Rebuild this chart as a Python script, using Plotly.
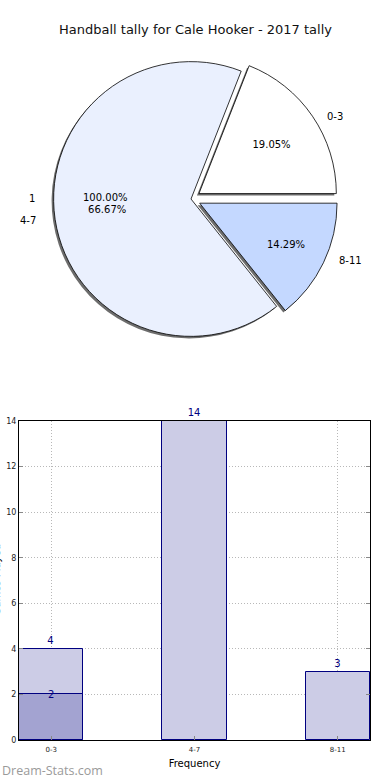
import plotly.graph_objects as go

# ---- data ----
categories = ["0-3", "4-7", "8-11"]
tally = [4, 14, 3]
sub_tally = [2, 0, 0]
pie_colors = ["#ffffff", "#eaf0fe", "#c4d8ff"]
pie_pull = [0.07, 0.0, 0.07]
overlay_labels = ["1"]
overlay_values = [1]
title = "Handball tally for Cale Hooker - 2017 tally"
y_title = "Games Played"

W, H = 390, 780

def px(x):
    return x / W

def py(y):
    return 1 - y / H

# first slice starts at 3 o'clock and runs counter-clockwise
rot = 90 - 360 * tally[0] / sum(tally)

cx, cy, half = 191, 199, 147
dom_x = [px(cx - half), px(cx + half)]
dom_y = [py(cy + half), py(cy - half)]
sh_dx, sh_dy = -2, 2

fig = go.Figure()

fig.add_trace(go.Pie(
    labels=categories, values=tally, sort=False, direction="counterclockwise",
    rotation=rot, pull=pie_pull,
    marker=dict(colors=["rgba(60,60,60,0.75)"] * 3, line=dict(width=0)),
    textinfo="none", hoverinfo="skip", showlegend=False,
    domain=dict(x=[dom_x[0] + px(sh_dx), dom_x[1] + px(sh_dx)],
                y=[dom_y[0] - sh_dy / H, dom_y[1] - sh_dy / H]),
))

pad = "\u00a0" * 10
fig.add_trace(go.Pie(
    labels=categories, values=tally, sort=False, direction="counterclockwise",
    rotation=rot, pull=pie_pull,
    marker=dict(colors=pie_colors, line=dict(color="black", width=0.8)),
    texttemplate=["%{percent:.2%}", "%{percent:.2%}" + pad, "%{percent:.2%}"],
    textposition="inside", insidetextorientation="horizontal",
    textfont=dict(family="DejaVu Sans", size=10, color="black"),
    showlegend=False, domain=dict(x=dom_x, y=dom_y),
))

fig.add_trace(go.Bar(
    x=list(range(len(categories))), y=tally, width=0.45,
    marker=dict(color="#cccce6", line=dict(color="#000080", width=1)),
    text=[str(v) for v in tally], textposition="outside",
    textfont=dict(family="DejaVu Sans", size=10, color="#000080"),
    cliponaxis=False, showlegend=False, xaxis="x", yaxis="y",
))
sub_x = [i for i, v in enumerate(sub_tally) if v > 0]
sub_y = [v for v in sub_tally if v > 0]
fig.add_trace(go.Bar(
    x=sub_x, y=sub_y, width=0.45,
    marker=dict(color="#a3a3d1", line=dict(color="#000080", width=1)),
    showlegend=False, xaxis="x", yaxis="y",
))

def ann(text, x, y, size=10, color="black", **kw):
    d = dict(text=text, x=px(x), y=py(y), xref="paper", yref="paper", showarrow=False,
             xanchor="center", yanchor="middle",
             font=dict(family="DejaVu Sans", size=size, color=color))
    d.update(kw)
    return d

annotations = [
    ann(title, 195, 30, size=13, color="#111"),
    ann(categories[0], 335, 116),
    ann(categories[1], 28, 220),
    ann(categories[2], 350, 261),
    ann(overlay_labels[0], 32, 198),
    ann(f"{100 * overlay_values[0] / sum(overlay_values):.2f}%", 105, 197),
    dict(text=str(sub_y[0]), x=sub_x[0], y=sub_y[0], xref="x", yref="y", showarrow=False,
         xanchor="center", yanchor="middle",
         font=dict(family="DejaVu Sans", size=10, color="#000080")),
    ann("Dream-Stats.com", 0, 770, xanchor="left",
        font=dict(family="Open Sans", size=12.5, color="#9a9a9a")),
    ann(y_title, 3, 580, textangle=-90, xanchor="right"),
]

fig.update_layout(
    width=W, height=H, margin=dict(l=0, r=0, t=0, b=0, autoexpand=False),
    paper_bgcolor="white", plot_bgcolor="white",
    barmode="overlay", bargap=0,
    xaxis=dict(domain=[px(19), px(370)], range=[-0.225, 2.225], automargin=False,
               tickvals=list(range(len(categories))), ticktext=categories,
               showgrid=True, gridcolor="#b8b8b8", griddash="1px,2px", gridwidth=1,
               showline=True, linecolor="black", linewidth=1, mirror=True,
               ticks="inside", ticklen=4, tickcolor="#888", ticklabelstandoff=3,
               tickfont=dict(family="DejaVu Sans", size=7, color="#222"),
               title=dict(text="Frequency", standoff=6,
                          font=dict(family="DejaVu Sans", size=10, color="black")),
               zeroline=False, fixedrange=True),
    yaxis=dict(domain=[py(740), py(421)], range=[0, 14], dtick=2, automargin=False,
               showgrid=True, gridcolor="#b8b8b8", griddash="1px,2px", gridwidth=1,
               showline=True, linecolor="black", linewidth=1, mirror="allticks",
               ticks="inside", ticklen=4, tickcolor="#888",
               tickfont=dict(family="DejaVu Sans", size=8, color="#222"),
               zeroline=False, fixedrange=True),
    annotations=annotations,
)

fig.write_html("out.html", config={"displayModeBar": False},
               post_script="document.body.style.margin='0px';")
